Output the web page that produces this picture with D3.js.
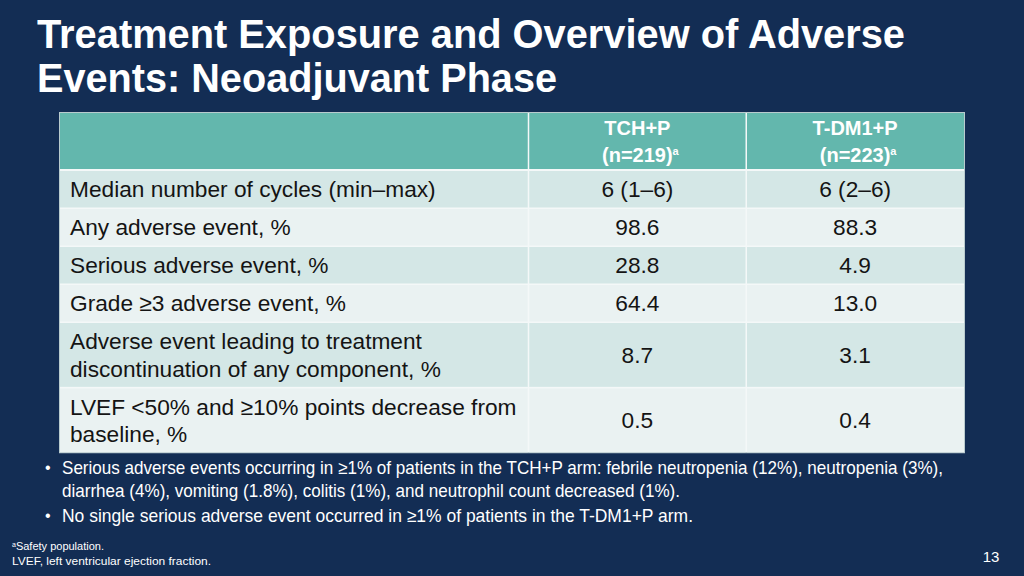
<!DOCTYPE html>
<html>
<head>
<meta charset="utf-8">
<script src="https://cdn.jsdelivr.net/npm/d3@7"></script>
<style>
  html, body { margin: 0; padding: 0; background: #132d54; }
  svg { display: block; }
  text { font-family: "Liberation Sans", Arial, sans-serif; }
</style>
</head>
<body>
<svg id="chart" width="1024" height="576"></svg>
<script>
// ---------- data ----------
const titleLines = ["Treatment Exposure and Overview of Adverse", "Events: Neoadjuvant Phase"];
const arms = ["TCH+P", "T-DM1+P"];
const armN = ["(n=219)", "(n=223)"];
const armNote = ["a", "a"];
const rowLabels = [
  ["Median number of cycles (min–max)"],
  ["Any adverse event, %"],
  ["Serious adverse event, %"],
  ["Grade ≥3 adverse event, %"],
  ["Adverse event leading to treatment", "discontinuation of any component, %"],
  ["LVEF <50% and ≥10% points decrease from", "baseline, %"]
];
const tchpValues = ["6 (1–6)", "98.6", "28.8", "64.4", "8.7", "0.5"];
const tdm1pValues = ["6 (2–6)", "88.3", "4.9", "13.0", "3.1", "0.4"];
const bulletLines = [
  ["Serious adverse events occurring in ≥1% of patients in the TCH+P arm: febrile neutropenia (12%), neutropenia (3%),",
   "diarrhea (4%), vomiting (1.8%), colitis (1%), and neutrophil count decreased (1%)."],
  ["No single serious adverse event occurred in ≥1% of patients in the T-DM1+P arm."]
];
const footnoteMark = "a";
const footnotes = ["Safety population.", "LVEF, left ventricular ejection fraction."];
const pageNumber = "13";

// ---------- layout ----------
const svg = d3.select("#chart");
const W = 1024, H = 576;
const C = {
  bg: "#132d54", header: "#63b7ad", dark: "#d4e7e6", light: "#eaf2f2",
  gap: "#f4f8f8", border: "#b9cbce", text: "#141414", white: "#ffffff"
};

svg.append("rect").attr("width", W).attr("height", H).attr("fill", C.bg);

// Title
const titleWidths = [868, 520];
svg.selectAll("text.title").data(titleLines).join("text")
  .attr("class", "title")
  .attr("x", 37)
  .attr("y", (d, i) => 48 + i * 44)
  .attr("fill", C.white)
  .attr("font-weight", "bold")
  .attr("font-size", 40)
  .attr("textLength", (d, i) => titleWidths[i])
  .attr("lengthAdjust", "spacingAndGlyphs")
  .text(d => d);

// Table geometry
const tLeft = 60, tRight = 964, tTop = 113, headerH = 56, headGap = 2, rowGap = 1.5;
const lineUnit = 36.5; // single-line row height
const rowH = rowLabels.map(l => l.length === 1 ? lineUnit : lineUnit * 1.75);
const rowY = [];
let yy = tTop + headerH + headGap;
rowH.forEach(h => { rowY.push(yy); yy += h + rowGap; });
const tBottom = rowY[rowY.length - 1] + rowH[rowH.length - 1];

const x = d3.scaleBand().domain(arms).range([528.5, tRight]).paddingInner(0);
const labelColRight = 528.5;

const g = svg.append("g");
// table background (gap colour) & border
g.append("rect")
  .attr("x", tLeft - 0.5).attr("y", tTop - 0.5)
  .attr("width", tRight - tLeft + 1).attr("height", tBottom - tTop + 1)
  .attr("fill", C.gap).attr("stroke", C.border).attr("stroke-width", 1);

// header cells
const colEdges = [[tLeft, labelColRight - 0.75]].concat(arms.map((a, i) => [x(a) + 0.75, x(a) + x.bandwidth() - (i === arms.length - 1 ? 0 : 0.75)]));
colEdges.forEach(([x0, x1]) => {
  g.append("rect").attr("x", x0).attr("y", tTop).attr("width", x1 - x0).attr("height", headerH).attr("fill", C.header);
});

// header text
const hdr = g.selectAll("g.hdr").data(arms).join("g").attr("class", "hdr");
hdr.append("text")
  .attr("x", d => x(d) + x.bandwidth() / 2)
  .attr("y", tTop + 22)
  .attr("text-anchor", "middle").attr("fill", C.white)
  .attr("font-weight", "bold").attr("font-size", 20)
  .text(d => d);
const hl2 = hdr.append("text")
  .attr("x", d => x(d) + x.bandwidth() / 2 + 3)
  .attr("y", tTop + 49)
  .attr("text-anchor", "middle").attr("fill", C.white)
  .attr("font-weight", "bold").attr("font-size", 20);
hl2.append("tspan").text((d, i) => armN[i]);
hl2.append("tspan").attr("font-size", 11).attr("dy", -7).text((d, i) => armNote[i]);

// body rows
rowLabels.forEach((lab, r) => {
  const fill = r % 2 === 0 ? C.dark : C.light;
  colEdges.forEach(([x0, x1]) => {
    g.append("rect").attr("x", x0).attr("y", rowY[r]).attr("width", x1 - x0).attr("height", rowH[r]).attr("fill", fill);
  });
  const cy = rowY[r] + rowH[r] / 2;
  const lh = 27.5;
  g.append("text")
    .attr("x", 70)
    .attr("fill", C.text).attr("font-size", 22.7)
    .selectAll("tspan").data(lab).join("tspan")
    .attr("x", 70)
    .attr("y", (d, i) => cy - (lab.length - 1) * lh / 2 + i * lh + 8)
    .text(d => d);
  [tchpValues, tdm1pValues].forEach((vals, c) => {
    g.append("text")
      .attr("x", x(arms[c]) + x.bandwidth() / 2)
      .attr("y", cy + 8)
      .attr("text-anchor", "middle")
      .attr("fill", C.text).attr("font-size", 22.7)
      .text(vals[r]);
  });
});

// bullets
const bulletWidths = [[881, 618], [631]];
const bulletY = [[474, 497], [522]];
bulletLines.forEach((lines, b) => {
  svg.append("text").attr("x", 45).attr("y", bulletY[b][0] - 1)
    .attr("fill", C.white).attr("font-size", 16).text("•");
  lines.forEach((ln, i) => {
    svg.append("text")
      .attr("x", 62).attr("y", bulletY[b][i])
      .attr("fill", C.white).attr("font-size", 18.5)
      .attr("textLength", bulletWidths[b][i]).attr("lengthAdjust", "spacingAndGlyphs")
      .text(ln);
  });
});

// footnotes
const fn1 = svg.append("text").attr("x", 12).attr("y", 550).attr("fill", C.white).attr("font-size", 11);
fn1.append("tspan").attr("font-size", 7).attr("dy", -3).text(footnoteMark);
fn1.append("tspan").attr("dy", 3).text(footnotes[0]);
svg.append("text").attr("x", 12).attr("y", 565).attr("fill", C.white).attr("font-size", 11)
  .attr("textLength", 199).attr("lengthAdjust", "spacingAndGlyphs").text(footnotes[1]);

// page number
svg.append("text").attr("x", 991).attr("y", 562).attr("text-anchor", "middle")
  .attr("fill", C.white).attr("font-size", 15).text(pageNumber);
</script>
</body>
</html>
